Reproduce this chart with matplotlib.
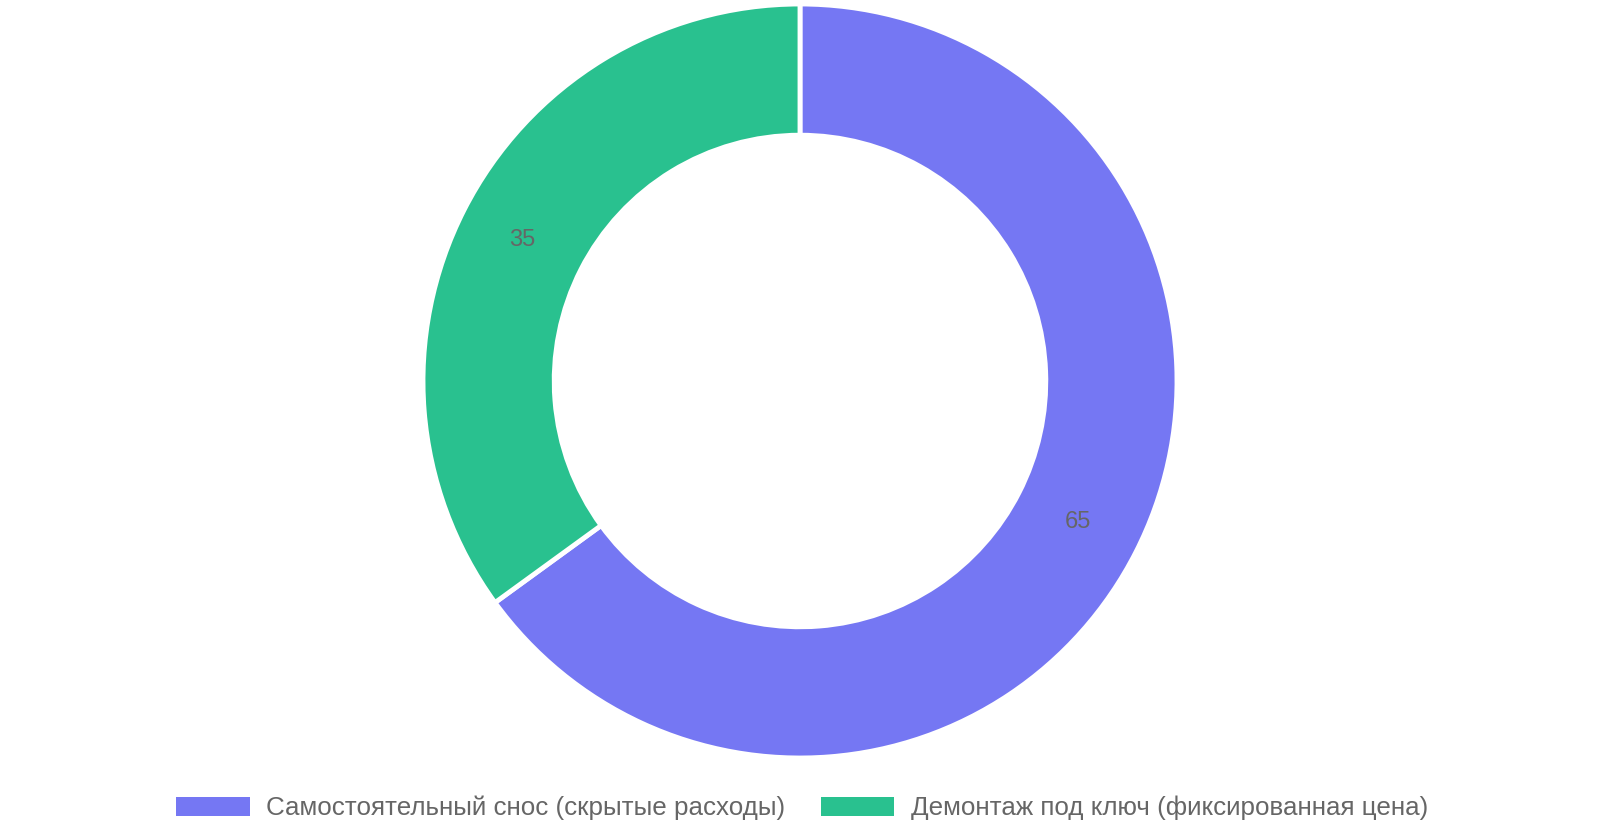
import numpy as np
import matplotlib.pyplot as plt
from matplotlib.patches import Patch

labels = ['Самостоятельный снос (скрытые расходы)', 'Демонтаж под ключ (фиксированная цена)']
values = [65, 35]
colors = ['#7577f3', '#29c18f']

plt.rcParams['font.family'] = ['Liberation Sans', 'DejaVu Sans']

W, H = 1600, 840
fig = plt.figure(figsize=(W / 100, H / 100), dpi=100)

# pie box in pixels: centre (800, 381 from top), outer radius 377
cx, cy, r = 800, 381, 377
ax = fig.add_axes([(cx - r) / W, (H - cy - r) / H, 2 * r / W, 2 * r / H])

ring = 0.348
wedges, _ = ax.pie(values, colors=colors, startangle=90, counterclock=False,
                   radius=1.0, wedgeprops=dict(width=ring, edgecolor='white', linewidth=3.5))

# value labels in the middle of the ring
for w, v in zip(wedges, values):
    ang = np.deg2rad((w.theta1 + w.theta2) / 2)
    rr = 1 - ring / 2
    ax.text(rr * np.cos(ang), rr * np.sin(ang), str(v), ha='center', va='center',
            fontsize=17, color='#666666')
ax.set_xlim(-1, 1)
ax.set_ylim(-1, 1)

handles = [Patch(facecolor=c, edgecolor='none') for c in colors]
fig.legend(handles, labels, loc='center', bbox_to_anchor=(802 / W, 1 - 808 / H), ncol=2,
           frameon=False, fontsize=18.7, labelcolor='#666666',
           handlelength=2.83, handleheight=0.75, handletextpad=0.63, columnspacing=1.37)

fig.savefig('out.png', dpi=100)
